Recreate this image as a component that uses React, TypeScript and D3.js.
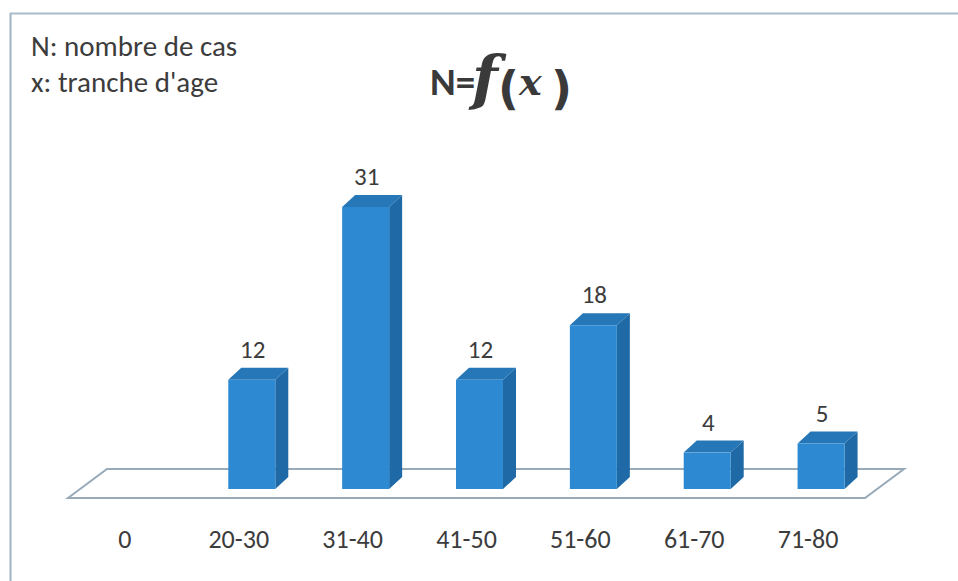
import React from "react";
import * as d3 from "d3";

const categories: string[] = ["0", "20-30", "31-40", "41-50", "51-60", "61-70", "71-80"];
const values: (number | null)[] = [null, 12, 31, 12, 18, 4, 5];
const legendLines: string[] = ["N: nombre de cas", "x: tranche d'age"];

const W = 958;
const H = 581;

export default function App() {
  // front edge of the floor
  const x = d3.scaleBand<string>().domain(categories).range([68, 865]).padding(0);
  const y = d3.scaleLinear().domain([0, 31]).range([489, 207]);
  const barW = 47;
  const dx = 13;
  const dy = -12;
  const floorDx = 39;
  const floorDy = -29;
  const barShift = 13;
  const font = "Carlito, Calibri, 'Open Sans', sans-serif";
  const ink = "#3c3c3c";

  const floorFrontY = 498;
  const [fx0, fx1] = x.range();

  return (
    <svg width={W} height={H} style={{ position: "absolute", left: 0, top: 0, background: "#fff" }}>
      <rect x={0} y={0} width={W} height={H} fill="#fff" />
      {/* frame */}
      <line x1={10.5} y1={13} x2={10.5} y2={H} stroke="#9fb3c4" strokeWidth={2} />
      <line x1={10} y1={13.5} x2={W} y2={13.5} stroke="#a9bccb" strokeWidth={2} />

      {/* floor */}
      <polygon
        points={`${fx0},${floorFrontY} ${fx0 + floorDx},${floorFrontY + floorDy} ${fx1 + floorDx},${floorFrontY + floorDy} ${fx1},${floorFrontY}`}
        fill="none"
        stroke="#98a9b8"
        strokeWidth={2}
      />

      {/* bars */}
      {categories.map((c, i) => {
        const v = values[i];
        if (v == null) return null;
        const cx = (x(c) as number) + x.bandwidth() / 2 + barShift;
        const x0 = cx - barW / 2;
        const x1 = cx + barW / 2;
        const y0 = y(0);
        const y1 = y(v);
        return (
          <g key={c}>
            <polygon
              points={`${x1},${y1} ${x1 + dx},${y1 + dy} ${x1 + dx},${y0 + dy} ${x1},${y0}`}
              fill="#1f6aa6"
            />
            <polygon
              points={`${x0},${y1} ${x0 + dx},${y1 + dy} ${x1 + dx},${y1 + dy} ${x1},${y1}`}
              fill="#2577b8"
            />
            <rect x={x0} y={y1} width={barW} height={y0 - y1} fill="#2d8ad2" />
            <text
              x={cx + 1}
              y={y1 + dy - 10}
              textAnchor="middle"
              fontFamily={font}
              fontSize={25}
              fill={ink}
            >
              {v}
            </text>
          </g>
        );
      })}

      {/* category labels */}
      {categories.map((c) => (
        <text
          key={"l" + c}
          x={(x(c) as number) + x.bandwidth() / 2}
          y={548}
          textAnchor="middle"
          fontFamily={font}
          fontSize={26}
          fill={ink}
        >
          {c}
        </text>
      ))}

      {/* legend text */}
      {legendLines.map((t, i) => (
        <text key={t} x={31} y={56 + i * 36} fontFamily={font} fontSize={29} fill={ink}>
          {t}
        </text>
      ))}

      {/* title N=f(x) */}
      <text fill="#3a3a3a" fontFamily={font} fontWeight="bold">
        <tspan x={430} y={95} fontSize={39}>N=</tspan>
        <tspan x={472} y={99} fontFamily="'DejaVu Serif', serif" fontStyle="italic" fontSize={60}>f</tspan>
        <tspan x={498} y={104} fontFamily="'DejaVu Sans', sans-serif" fontSize={46}>(</tspan>
        <tspan x={519} y={95} fontFamily="'DejaVu Serif', serif" fontStyle="italic" fontSize={38}>x</tspan>
        <tspan x={551} y={104} fontFamily="'DejaVu Sans', sans-serif" fontSize={46}>)</tspan>
      </text>
    </svg>
  );
}
